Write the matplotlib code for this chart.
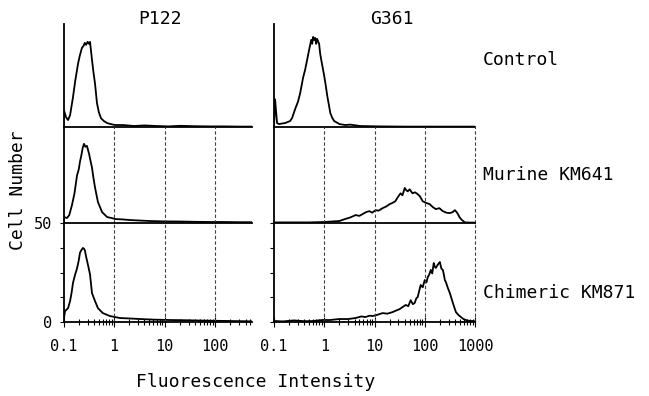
## Flow cytometry histograms : P122 / G361
import matplotlib.pyplot as plt
from matplotlib.ticker import LogLocator, NullFormatter

plt.rcParams['font.family'] = ['DejaVu Sans Mono']

cell_lines = ['P122', 'G361']
antibodies = ['Control', 'Murine KM641', 'Chimeric KM871']

# P122 (colonne de gauche) : intensite, nombre de cellules
p122_ctrl_x = [0.1, 0.102, 0.112, 0.123, 0.135, 0.154, 0.17, 0.194, 0.21, 0.232, 0.25, 0.264, 0.28,
               0.3, 0.32, 0.335, 0.366, 0.39, 0.42, 0.46, 0.5, 0.55, 0.63, 0.73, 0.85, 1.05, 1.5,
               2.5, 4, 7, 12, 20, 40, 80, 150, 300, 537]
p122_ctrl_y = [0, 8.5, 5, 3.5, 6, 15, 23, 32, 36, 40, 41, 42.5, 41.5, 43, 42, 43, 34, 28, 22, 12,
               7.5, 4.5, 3, 2, 1.5, 1, 1, 0.5, 0.8, 0.5, 0.3, 0.6, 0.4, 0.3, 0.3, 0.2, 0.2]

p122_mur_x = [0.1, 0.104, 0.117, 0.13, 0.147, 0.165, 0.185, 0.2, 0.212, 0.225, 0.24, 0.255, 0.27,
              0.29, 0.305, 0.32, 0.345, 0.366, 0.39, 0.42, 0.48, 0.58, 0.73, 0.9, 1.05, 1.5, 2.07,
              3.5, 5.2, 10, 20, 40, 80, 150, 300, 537]
p122_mur_y = [0, 3, 2.5, 4, 9, 15, 24, 27, 31, 34, 38, 40, 38.5, 39, 37, 35, 31, 28, 23, 18, 10.6,
              5.5, 3, 2.5, 2, 1.8, 1.5, 1.2, 1, 0.8, 0.75, 0.6, 0.5, 0.5, 0.4, 0.4]

p122_chim_x = [0.1, 0.107, 0.123, 0.135, 0.145, 0.154, 0.17, 0.185, 0.2, 0.212, 0.228, 0.243, 0.255,
               0.266, 0.28, 0.292, 0.31, 0.335, 0.366, 0.42, 0.48, 0.6, 0.83, 1.05, 1.31, 2, 3.27,
               6, 12.9, 25, 50, 100, 200, 350, 537]
p122_chim_y = [0, 5.5, 7, 10.6, 15, 19.7, 24, 27, 31, 35, 36.5, 37.4, 37, 36, 33, 31, 28, 24, 14.6,
               10.6, 7, 4.5, 3, 2.5, 2, 1.8, 1.5, 1.2, 1, 0.9, 0.75, 0.6, 0.5, 0.4, 0.3]

# G361 (colonne de droite)
g361_ctrl_x = [0.1, 0.105, 0.115, 0.126, 0.166, 0.209, 0.229, 0.263, 0.302, 0.331, 0.38, 0.417,
               0.457, 0.5, 0.55, 0.575, 0.6, 0.63, 0.66, 0.69, 0.72, 0.79, 0.83, 0.87, 0.93, 1.0,
               1.07, 1.15, 1.26, 1.32, 1.45, 1.58, 2.0, 2.6, 3.3, 5.2, 13, 40, 150, 1000]
g361_ctrl_y = [0, 14, 2, 1.5, 2, 3, 4.5, 9, 13, 17, 25, 29, 34, 39, 44, 42, 45.5, 44, 45, 42, 44.5,
               42, 37, 34, 30, 25.7, 21, 15.6, 10, 7, 4.5, 3, 1.5, 1, 1.2, 0.5, 0.3, 0.2, 0.2, 0.2]

g361_mur_x = [0.1, 0.5, 1.0, 1.5, 2.0, 2.6, 3.3, 4.2, 5, 5.8, 6.8, 7.9, 9, 10.5, 12, 14.5, 17, 20,
              23, 26, 29, 33, 36, 40, 43, 46, 50, 57, 64, 72, 80, 91, 105, 126, 145, 166, 195,
              229, 270, 316, 360, 398, 430, 457, 490, 525, 580, 631, 800, 1000]
g361_mur_y = [0.3, 0.3, 0.5, 0.8, 1, 2, 2.8, 4, 3.6, 4.5, 5.5, 6, 5.2, 6.5, 6.2, 7.5, 8.3, 9.5, 10.2,
              11, 13, 15, 14, 17.7, 16.5, 16, 17, 15, 15.5, 14.6, 13.5, 11, 10.2, 9.5, 8, 7, 7.5,
              6, 5.2, 5, 5.5, 6.5, 5.5, 4.5, 3, 2, 1, 0.3, 0.2, 0.2]

g361_chim_x = [0.1, 0.15, 0.25, 0.4, 0.6, 0.91, 1.3, 2.0, 3.0, 4.17, 5.5, 6.6, 8, 9.1, 11, 14.5, 18,
               22.9, 27, 31.6, 36, 41.7, 47, 52.5, 58, 63, 68, 72.4, 78, 83, 91, 100, 108, 115, 123,
               132, 141, 151, 158, 166, 182, 200, 214, 229, 240, 251, 263, 290, 316, 363, 417, 470,
               525, 590, 661, 780, 912, 1000]
g361_chim_y = [0.5, 0.3, 0.8, 0.4, 0.5, 1, 1, 1.5, 1.5, 2, 2.8, 2.5, 3.2, 3, 3.5, 4.5, 4.2, 5, 5.8,
               6.5, 7.5, 8.6, 8, 11, 9, 9.6, 12, 12.6, 16, 18.7, 17.5, 21.2, 20, 22.7, 24, 26.3, 24.5,
               29.8, 28, 27.3, 29, 30.3, 27, 26.3, 24, 21.2, 20.2, 17, 14.6, 9.6, 5, 3.5, 2.5, 1.5,
               1, 0.5, 0.5, 0.3]

data = [[(p122_ctrl_x, p122_ctrl_y), (p122_mur_x, p122_mur_y), (p122_chim_x, p122_chim_y)],
        [(g361_ctrl_x, g361_ctrl_y), (g361_mur_x, g361_mur_y), (g361_chim_x, g361_chim_y)]]

xmax = [537, 1000]
ticks = [[0.1, 1, 10, 100], [0.1, 1, 10, 100, 1000]]
tick_labels = [['0.1', '1', '10', '100'], ['0.1', '1', '10', '100', '1000']]

W, H = 649, 396
fig = plt.figure(figsize=(W / 100, H / 100), dpi=100)

# positions des panneaux en pixels
cols = [(63.5, 188.5), (274, 201)]
rows = [(24, 127), (127, 223), (223, 322)]
unit = 50 / 99  # comptes par pixel

for c in range(2):
    x0, w = cols[c]
    for r in range(3):
        top, bot = rows[r]
        ax = fig.add_axes([x0 / W, 1 - bot / H, w / W, (bot - top) / H])
        xs, ys = data[c][r]
        ax.plot(xs, ys, color='black', lw=1.3)
        ax.set_xscale('log')
        ax.set_xlim(0.1, xmax[c])
        ax.set_ylim(0, (bot - top) * unit)
        for s in ['top', 'right']:
            ax.spines[s].set_visible(False)
        ax.spines['left'].set_linewidth(1.3)
        ax.spines['bottom'].set_linewidth(1.3)
        if r > 0:
            for t in ticks[c][1:]:
                ax.axvline(t, color='0.25', lw=0.8, ls=(0, (3, 2)), clip_on=False)
        if r == 2:
            ax.set_xticks(ticks[c])
            ax.set_xticklabels(tick_labels[c], fontsize=11)
            ax.xaxis.set_minor_locator(LogLocator(base=10, subs=range(2, 10), numticks=20))
            ax.xaxis.set_minor_formatter(NullFormatter())
            ax.tick_params(axis='x', which='major', direction='inout', length=7, pad=9)
            ax.tick_params(axis='x', which='minor', direction='inout', length=5, width=0.8)
            ax.set_yticks([0, 12.5, 25, 37.5, 50])
            if c == 0:
                ax.set_yticklabels(['0', '', '', '', '50'], fontsize=11)
            else:
                ax.set_yticklabels([])
            ax.tick_params(axis='y', length=3, pad=5)
        else:
            ax.set_xticks([])
            ax.set_xticks([], minor=True)
            ax.set_yticks([])
        ax.patch.set_alpha(0)

# textes
fig.text(160 / W, 1 - 19 / H, cell_lines[0], ha='center', va='center', fontsize=13)
fig.text(392 / W, 1 - 19 / H, cell_lines[1], ha='center', va='center', fontsize=13)
for lab, yp in zip(antibodies, [60, 175, 293]):
    fig.text(483 / W, 1 - yp / H, lab, ha='left', va='center', fontsize=13)
fig.text(18 / W, 1 - 190 / H, 'Cell Number', rotation=90, ha='center', va='center', fontsize=13)
fig.text(256 / W, 1 - 382 / H, 'Fluorescence Intensity', ha='center', va='center', fontsize=13)

plt.savefig('out.png', dpi=100)
